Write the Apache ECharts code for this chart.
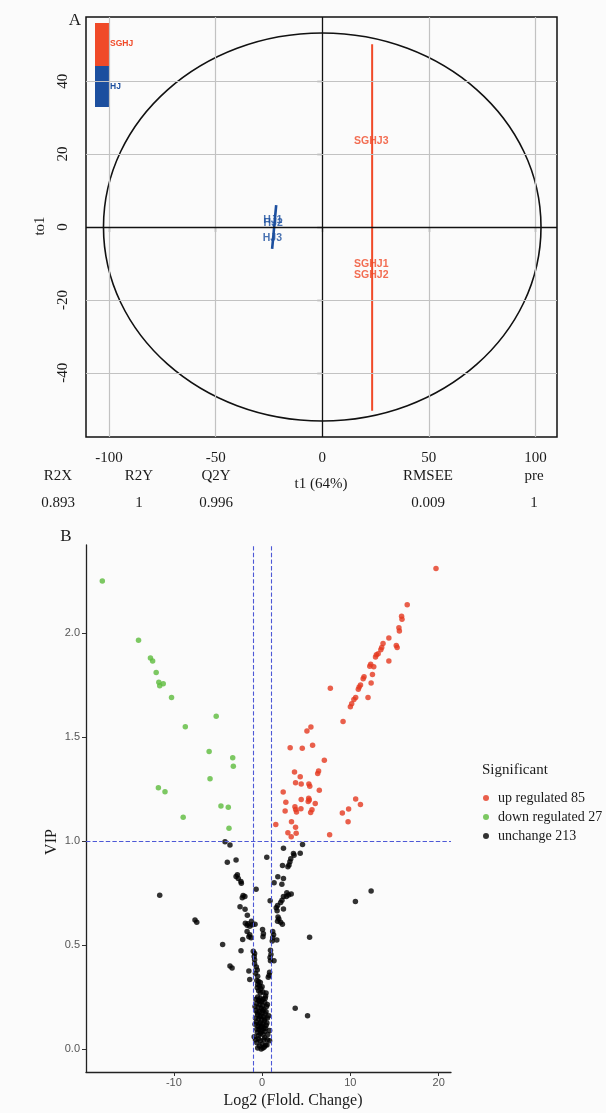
<!DOCTYPE html>
<html><head><meta charset="utf-8">
<script src="https://cdn.jsdelivr.net/npm/echarts@6/dist/echarts.min.js"></script>
<style>html,body{margin:0;padding:0;background:#fbfbfb}#c{width:606px;height:1113px}</style>
</head><body><div id="c"></div><script>
// ---------- Panel A: OPLS-DA scores ----------
const oplsTicksX = [-100, -50, 0, 50, 100];
const oplsTicksY = [-40, -20, 0, 20, 40];
const hjNames = ['HJ1', 'HJ2', 'HJ3'];
const hjPoints = [[-23.2, 1.8], [-23.0, 1.2], [-23.4, -3.0]];
const sghjNames = ['SGHJ1', 'SGHJ2', 'SGHJ3'];
const sghjPoints = [[23.0, -10.1], [23.0, -13.2], [23.0, 23.6]];
const hotellingEllipse = [[0, 0, 102.6, 53.2]]; // cx, cy, rx, ry
const sghjGroupLine = [[23.4, 50.1], [23.4, -50.4]];
const hjGroupLine = [[-21.6, 6.0], [-23.5, -6.0]];
const metricNames = ['R2X', 'R2Y', 'Q2Y', 'RMSEE', 'pre'];
const metricValues = ['0.893', '1', '0.996', '0.009', '1'];

// ---------- Panel B: volcano ----------
const vipTicks = [0, 0.5, 1.0, 1.5, 2.0];
const fcTicks = [-10, 0, 10, 20];
const fcCutoffs = [-1, 1];
const vipCutoff = 1;
const upPoints = [
[19.7,2.31],[16.44,2.136],[15.8,2.08],[15.85,2.066],[15.5,2.025],[15.55,2.01],[14.36,1.976],[13.7,1.95],[13.55,1.93],[13.45,1.92],
[15.2,1.94],[15.3,1.93],[12.95,1.895],[12.85,1.885],[13.15,1.9],[14.36,1.865],[12.3,1.85],[12.2,1.84],[12.65,1.838],[12.5,1.80],
[12.35,1.76],[11.55,1.79],[11.45,1.78],[11.0,1.74],[10.9,1.73],[11.15,1.75],[12.0,1.69],[10.6,1.69],[10.4,1.68],[10.15,1.66],
[10.0,1.645],[7.73,1.734],[9.17,1.575],[5.08,1.529],[5.53,1.548],[3.18,1.449],[4.55,1.446],[5.72,1.46],[7.05,1.388],[3.67,1.332],
[4.32,1.309],[6.3,1.325],[6.4,1.337],[3.79,1.28],[4.43,1.274],[5.3,1.274],[5.4,1.264],[2.39,1.236],[6.48,1.244],[2.69,1.186],
[3.72,1.165],[3.8,1.152],[3.9,1.14],[4.43,1.20],[5.28,1.206],[5.35,1.197],[5.22,1.19],[6.02,1.181],[2.61,1.144],[4.4,1.155],
[5.65,1.15],[5.5,1.137],[10.6,1.202],[11.14,1.176],[9.8,1.154],[9.09,1.135],[9.74,1.093],[1.55,1.08],[3.33,1.093],[3.79,1.066],
[2.92,1.04],[3.3,1.021],[3.86,1.037],[7.65,1.03]
];
const downPoints = [
[-18.1,2.25],[-14.0,1.965],[-12.65,1.88],[-12.4,1.865],[-12.0,1.81],[-11.7,1.763],[-11.6,1.747],[-11.2,1.756],[-10.26,1.69],[-8.7,1.55],
[-5.2,1.60],[-6.0,1.43],[-3.33,1.40],[-3.26,1.36],[-5.9,1.30],[-11.75,1.256],[-11.0,1.237],[-4.66,1.168],[-3.83,1.163],[-8.94,1.115],
[-3.75,1.061]
];
const unchangePoints = [
[-11.6,0.74],[-7.6,0.62],[-7.4,0.61],[-3.4,0.39],
[-4.2,0.997],[-3.64,0.981],[2.42,0.965],[4.58,0.984],
[3.55,0.94],[3.62,0.932],[4.32,0.941],[0.53,0.922],
[3.25,0.915],[3.15,0.90],[3.05,0.885],
[-3.94,0.898],[-2.95,0.909],[2.31,0.883],[2.92,0.876],
[-2.95,0.83],[-2.8,0.838],[-2.7,0.82],[-2.4,0.806],[-2.35,0.797],
[1.78,0.829],[2.42,0.82],[1.36,0.80],[2.24,0.793],[-0.68,0.768],
[2.8,0.752],[3.0,0.741],[2.75,0.733],[3.3,0.745],[2.42,0.733],
[-2.15,0.738],[-1.95,0.733],[-2.25,0.728],
[12.35,0.76],[10.57,0.709],[0.91,0.713],[2.25,0.715],[2.1,0.705],
[1.75,0.69],[1.6,0.68],[1.7,0.665],[2.42,0.673],
[-2.5,0.684],[-1.93,0.672],[-1.67,0.643],
[1.8,0.635],[1.9,0.625],[1.75,0.615],[2.1,0.61],[2.3,0.6],
[-1.9,0.605],[-1.6,0.603],[-1.7,0.595],[-1.4,0.59],[-1.2,0.615],[-1.1,0.598],
[-0.8,0.60],
[-1.7,0.565],[-1.4,0.55],[-1.25,0.535],[-1.5,0.54],
[0.05,0.575],[0.15,0.555],[0.1,0.54],
[1.2,0.565],[1.3,0.55],[1.2,0.535],[1.15,0.52],
[-2.2,0.527],[1.67,0.524],[5.38,0.538],[-4.47,0.503],[-2.39,0.473],
[-1.0,0.47],[-0.85,0.46],[-0.9,0.445],[-0.85,0.43],
[0.95,0.475],[1.0,0.455],[0.9,0.44],[0.95,0.425],[1.35,0.425],
[-3.64,0.40],
[-0.85,0.41],[-0.65,0.395],[-0.55,0.38],[-0.75,0.365],[-0.5,0.35],
[-1.5,0.375],[-1.4,0.335],
[0.85,0.37],[0.8,0.355],[0.7,0.345],
[-0.6,0.33],[-0.4,0.325],[-0.2,0.32],[-0.5,0.31],[-0.3,0.305],[0.0,0.30],[-0.55,0.295],[-0.15,0.29],[-0.4,0.28],[0.1,0.275],[-0.2,0.27],
[0.45,0.27],[0.4,0.255],
[-0.5,0.25],[-0.2,0.245],[0.1,0.24],[-0.4,0.235],[-0.05,0.23],[0.3,0.225],[-0.6,0.22],[-0.25,0.215],[0.05,0.21],[0.5,0.205],
[-0.45,0.2],[-0.1,0.195],[0.2,0.19],[-0.7,0.185],[-0.3,0.18],[0.0,0.175],[0.35,0.17],[-0.5,0.165],[-0.15,0.16],[0.15,0.155],
[0.6,0.15],[-0.4,0.145],[-0.05,0.14],[0.25,0.135],[-0.65,0.13],[-0.2,0.125],[0.1,0.12],[0.45,0.115],[-0.45,0.11],[-0.1,0.105],
[0.2,0.1],[-0.35,0.095],[0.0,0.09],[0.3,0.085],[-0.55,0.08],[-0.2,0.075],[0.1,0.07],[0.85,0.09],[-0.8,0.12],[0.75,0.16],
[-0.7,0.24],[0.35,0.245],[-0.3,0.23],[0.6,0.215],[-0.8,0.205],[0.05,0.185],[-0.55,0.175],[0.45,0.18],[-0.25,0.155],[0.3,0.145],
[-0.75,0.15],[0.55,0.125],[-0.35,0.12],[0.0,0.11],[-0.6,0.095],[0.4,0.1],[-0.15,0.085],[0.65,0.07],[-0.4,0.065],[0.2,0.045],
[-0.75,0.045],[0.55,0.02],[-0.1,0.0],[0.25,0.01],[-0.5,0.005],
[3.75,0.197],[5.15,0.16],
[-0.9,0.06],[-0.4,0.05],[-0.2,0.04],[0.3,0.055],[0.6,0.045],[-0.6,0.03],[0.0,0.025],[0.4,0.02],[-0.3,0.015],[0.1,0.005],[0.85,0.04]
];
const legendNames = ['up regulated 85', 'down regulated 27', 'unchange 213'];

const SERIF = '"Liberation Serif", "Times New Roman", serif';
const SANS = '"Liberation Sans", Arial, sans-serif';
const RED_A = '#f04a28', BLUE_A = '#1c4f9f';
const RED_B = '#e5381f', GREEN_B = '#5cbb3c', DASH = '#4d58d6';

const chart = echarts.init(document.getElementById('c'), null, {renderer: 'canvas'});

function txt(text, x, y, size, opt) {
  opt = opt || {};
  return {
    type: 'text', x: x, y: y, rotation: opt.rotation || 0, silent: true,
    style: {
      text: text, fill: opt.color || '#1a1a1a',
      font: (opt.weight || 'normal') + ' ' + size + 'px ' + (opt.family || SERIF),
      align: opt.align || 'center', verticalAlign: 'middle',
      textAlign: opt.align || 'center', textVerticalAlign: 'middle'
    }
  };
}

const metricX = [58, 139, 216, 428, 534];
const graphics = [
  txt('A', 75, 21, 17),
  txt('to1', 40, 226, 15, {rotation: Math.PI / 2}),
  txt('t1 (64%)', 321, 484, 15),
  txt('B', 66, 537, 17),
  txt('VIP', 52, 842, 16, {rotation: Math.PI / 2}),
  txt('Log2 (Flold. Change)', 293, 1101, 16),
  txt('Significant', 482, 770, 15, {align: 'left'}),
  {type: 'rect', silent: true, shape: {x: 95, y: 23, width: 14, height: 43}, style: {fill: RED_A}},
  {type: 'rect', silent: true, shape: {x: 95, y: 66, width: 14, height: 41}, style: {fill: BLUE_A}},
  txt('SGHJ', 110, 44, 8.5, {align: 'left', color: RED_A, weight: 'bold', family: SANS}),
  txt('HJ', 110, 87, 8.5, {align: 'left', color: BLUE_A, weight: 'bold', family: SANS})
];
metricNames.forEach((m, i) => {
  graphics.push(txt(m, metricX[i], 476, 15));
  graphics.push(txt(metricValues[i], metricX[i], 503, 15));
});

const gridMarkA = [];
oplsTicksX.forEach(v => gridMarkA.push({xAxis: v, lineStyle: {color: v === 0 ? '#111' : '#c2c2c2', width: v === 0 ? 1.3 : 1.2, type: 'solid'}}));
oplsTicksY.forEach(v => gridMarkA.push({yAxis: v, lineStyle: {color: v === 0 ? '#111' : '#c2c2c2', width: v === 0 ? 1.3 : 1.2, type: 'solid'}}));

const dashStyle = {color: DASH, type: 'dashed', dashOffset: 0, width: 1.1, opacity: 1};
const cutMarks = fcCutoffs.map(v => ({xAxis: v, lineStyle: dashStyle})).concat([{yAxis: vipCutoff, lineStyle: dashStyle}]);

const option = {
  animation: false,
  backgroundColor: '#fbfbfb',
  grid: [
    {left: 86, top: 17, width: 471, height: 420, show: true, borderColor: '#111', borderWidth: 1.5, backgroundColor: 'transparent', containLabel: false},
    {left: 86, top: 545, width: 365, height: 527, containLabel: false}
  ],
  xAxis: [
    {gridIndex: 0, type: 'value', min: -110.8, max: 110.1,
     axisLine: {show: false}, splitLine: {show: false},
     axisTick: {show: true, customValues: oplsTicksX, length: 5, lineStyle: {color: '#111', width: 1.2}},
     axisLabel: {customValues: oplsTicksX, margin: 14, color: '#1a1a1a', fontFamily: SERIF, fontSize: 15}},
    {gridIndex: 1, type: 'value', min: -19.95, max: 21.4,
     axisLine: {show: true, onZero: false, lineStyle: {color: '#222', width: 1.3}}, splitLine: {show: false},
     axisTick: {show: true, customValues: fcTicks, length: 4, lineStyle: {color: '#333'}},
     axisLabel: {customValues: fcTicks, margin: 5, color: '#555', fontFamily: SANS, fontSize: 11}}
  ],
  yAxis: [
    {gridIndex: 0, type: 'value', min: -57.6, max: 57.6,
     axisLine: {show: false}, splitLine: {show: false},
     axisTick: {show: true, customValues: oplsTicksY, length: 5, lineStyle: {color: '#111', width: 1.2}},
     axisLabel: {customValues: oplsTicksY, rotate: 90, margin: 15, color: '#1a1a1a', fontFamily: SERIF, fontSize: 15}},
    {gridIndex: 1, type: 'value', min: -0.11, max: 2.423,
     axisLine: {show: true, onZero: false, lineStyle: {color: '#222', width: 1.3}}, splitLine: {show: false},
     axisTick: {show: true, customValues: vipTicks, length: 4, lineStyle: {color: '#333'}},
     axisLabel: {customValues: vipTicks, margin: 6, color: '#555', fontFamily: SANS, fontSize: 11,
                 formatter: v => Number(v).toFixed(1)}}
  ],
  legend: {
    data: legendNames, orient: 'vertical', left: 478, top: 786,
    itemWidth: 14, itemHeight: 6, itemGap: 5, icon: 'circle', selectedMode: false,
    textStyle: {fontFamily: SERIF, fontSize: 14, color: '#1a1a1a'}
  },
  graphic: graphics,
  series: [
    {type: 'line', xAxisIndex: 0, yAxisIndex: 0, data: [], silent: true,
     markLine: {silent: true, symbol: ['none', 'none'], label: {show: false}, animation: false, data: gridMarkA}, z: 1},
    {type: 'custom', xAxisIndex: 0, yAxisIndex: 0, data: hotellingEllipse, silent: true, z: 3,
     renderItem: (params, api) => {
       const c = api.coord([api.value(0), api.value(1)]);
       const s = api.size([api.value(2), api.value(3)]);
       return {type: 'ellipse', shape: {cx: c[0], cy: c[1], rx: s[0], ry: s[1]},
               style: {fill: 'none', stroke: '#111', lineWidth: 1.6}};
     }},
    {type: 'line', xAxisIndex: 0, yAxisIndex: 0, data: sghjGroupLine, symbol: 'none', silent: true,
     lineStyle: {color: RED_A, width: 2}, z: 4},
    {type: 'line', xAxisIndex: 0, yAxisIndex: 0, data: hjGroupLine, symbol: 'none', silent: true,
     lineStyle: {color: BLUE_A, width: 2.6}, z: 4},
    {type: 'scatter', xAxisIndex: 0, yAxisIndex: 0, symbolSize: 0, silent: true, z: 5,
     data: hjPoints.map((p, i) => ({name: hjNames[i], value: p})),
     label: {show: true, position: 'inside', formatter: '{b}', color: BLUE_A, fontWeight: 'bold', fontFamily: SANS, fontSize: 10.5}},
    {type: 'scatter', xAxisIndex: 0, yAxisIndex: 0, symbolSize: 0, silent: true, z: 5,
     data: sghjPoints.map((p, i) => ({name: sghjNames[i], value: p})),
     label: {show: true, position: 'inside', formatter: '{b}', color: RED_A, fontWeight: 'bold', fontFamily: SANS, fontSize: 10.5}},
    {name: legendNames[2], type: 'scatter', xAxisIndex: 1, yAxisIndex: 1, data: unchangePoints, symbolSize: 5.5,
     itemStyle: {color: '#000'}, silent: true, z: 3},
    {name: legendNames[0], type: 'scatter', xAxisIndex: 1, yAxisIndex: 1, data: upPoints, symbolSize: 5.5,
     itemStyle: {color: RED_B}, silent: true, z: 3},
    {name: legendNames[1], type: 'scatter', xAxisIndex: 1, yAxisIndex: 1, data: downPoints, symbolSize: 5.5,
     itemStyle: {color: GREEN_B}, silent: true, z: 3},
    {type: 'line', xAxisIndex: 1, yAxisIndex: 1, data: [], silent: true, color: DASH,
     markLine: {silent: true, symbol: ['none', 'none'], label: {show: false}, animation: false,
                lineStyle: dashStyle, data: cutMarks}, z: 2}
  ]
};
chart.setOption(option);
</script></body></html>
